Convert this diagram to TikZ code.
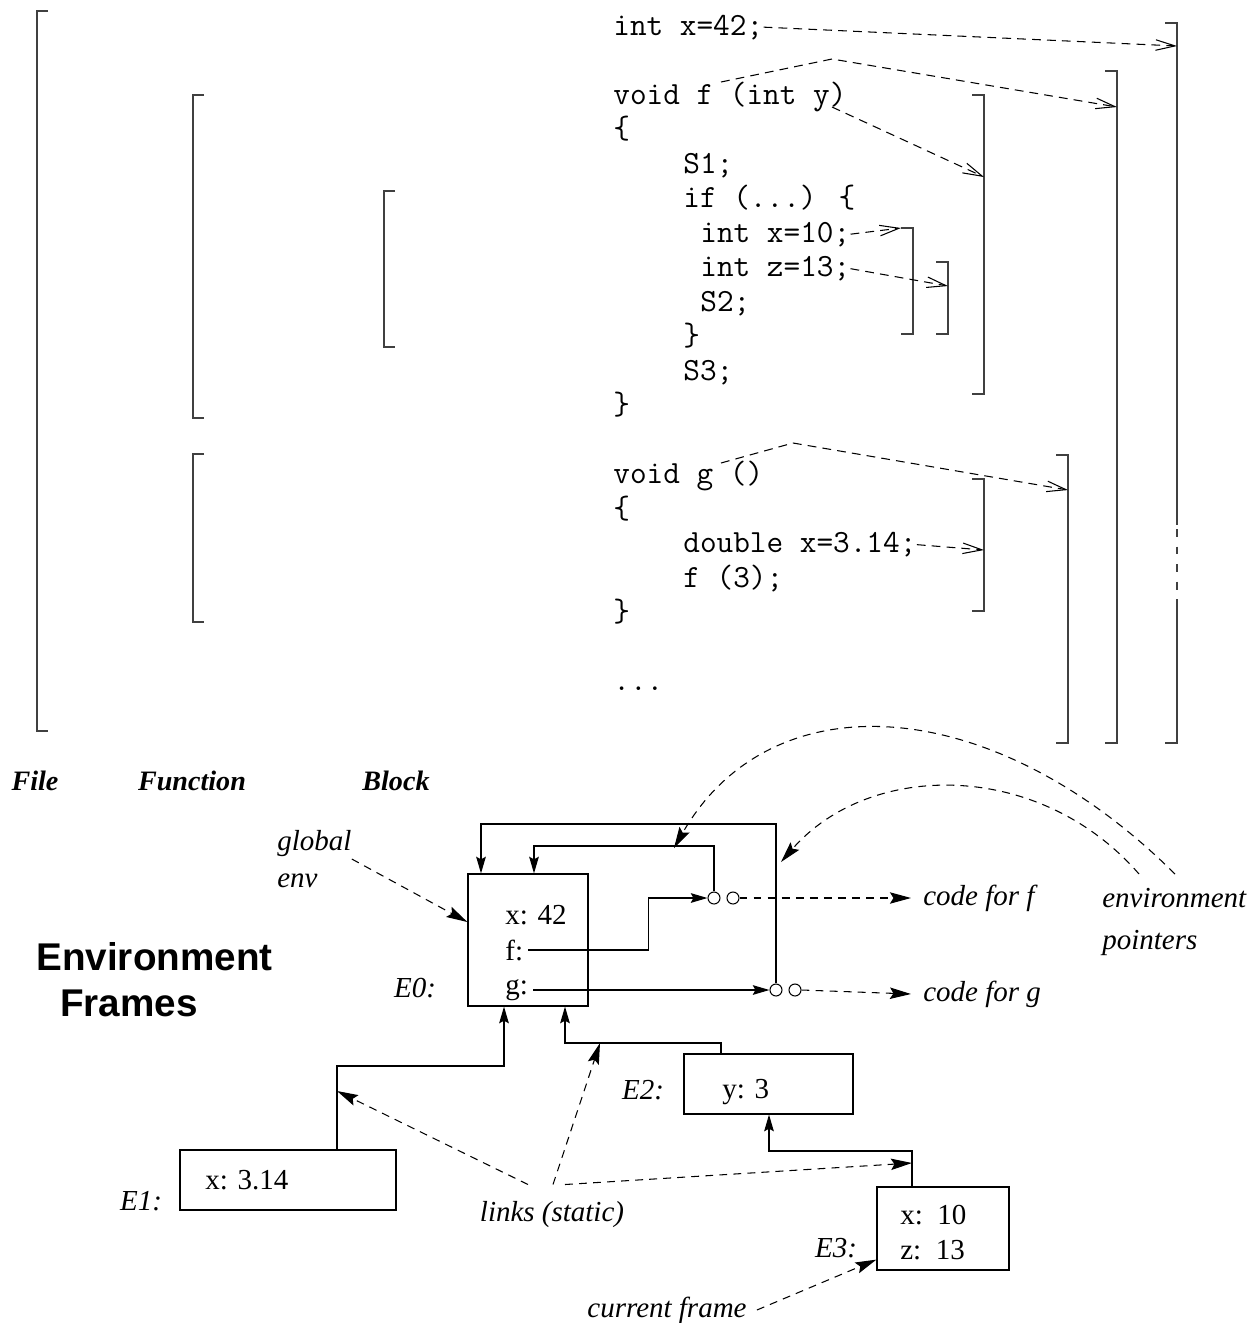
\documentclass[tikz,border=0pt]{standalone}
\usepackage{fontspec}
\setmainfont{Liberation Serif}
\setsansfont{Liberation Sans}
\usepackage{tikz}
\usetikzlibrary{arrows.meta, positioning, calc}

\begin{document}
\begin{tikzpicture}[
  x=0.02cm, y=-0.02cm,
  codeline/.style={font=\ttfamily\fontsize{18.4}{21}\selectfont, inner sep=0pt, anchor=base west},
  brk/.style={line width=0.8pt, draw=black!75},
  ptr/.style={line width=0.6pt, dash pattern=on 5pt off 3.5pt, -{Straight Barb[length=11pt, width=6pt]}},
  scopehead/.style={font=\bfseries\itshape\fontsize{16}{19}\selectfont, inner sep=0pt},
  lbl/.style={font=\itshape\fontsize{16.5}{20}\selectfont, inner sep=0pt},
  val/.style={font=\fontsize{16.5}{20}\selectfont, inner sep=0pt, anchor=west},
  envbox/.style={draw, line width=0.7pt, inner sep=0pt},
  link/.style={line width=0.7pt, -{Stealth[length=9.5pt, width=5.5pt, inset=1.5pt]}},
  dptr/.style={line width=0.6pt, dash pattern=on 4.5pt off 3.5pt, -{Stealth[length=12pt, width=6.5pt, inset=2pt]}},
  ring/.style={circle, draw, line width=0.6pt, minimum size=0.24cm, inner sep=0pt},
]
\useasboundingbox (0,0) rectangle (1255,1323);

% scope brackets, left side
\foreach \x/\a/\b in {37/11/731, 193/95/418, 193/454/622, 384/191/347}
  \draw[brk] (\x+11,\a) -- (\x,\a) -- (\x,\b) -- (\x+11,\b);

% scope brackets, right side
\foreach \x/\a/\b in {913/228/334, 948/262/334, 984/95/394, 984/479/611, 1068/455/743, 1117/71/743}
  \draw[brk] (\x-12,\a) -- (\x,\a) -- (\x,\b) -- (\x-12,\b);
\draw[brk] (1165,23) -- (1177,23) -- (1177,525);
\draw[brk, dash pattern=on 4.5pt off 5.5pt] (1177,529) -- (1177,603);
\draw[brk] (1177,603) -- (1177,743) -- (1165,743);

% program text
\node[codeline] (cx42) at (613,35) {int x=42;};
\node[codeline] (cvf) at (613,104) {void f (int y)};
\node[codeline] (cob1) at (613,138.5) {\{};
\node[codeline] (cs1) at (683,173) {S1;};
\node[codeline] (cif) at (683,207.5) {if (...) \{};
\node[codeline] (cx10) at (700,242) {int x=10;};
\node[codeline] (cz13) at (700,276.5) {int z=13;};
\node[codeline] (cs2) at (700,311) {S2;};
\node[codeline] (ccb1) at (683,345.5) {\}};
\node[codeline] (cs3) at (683,380) {S3;};
\node[codeline] (ccb2) at (613,414.5) {\}};
\node[codeline] (cvg) at (613,483.5) {void g ()};
\node[codeline] (cob2) at (613,518) {\{};
\node[codeline] (cdbl) at (683,552.5) {double x=3.14;};
\node[codeline] (ccall) at (683,587) {f (3);};
\node[codeline] (ccb3) at (613,621.5) {\}};
\node[codeline] (cdots) at (613,690.5) {...};

% declarations to scopes
\coordinate (t42) at (1177,46);
\coordinate (pf) at (721,82);
\coordinate (kf) at (832,59);
\coordinate (tf) at (1117,107);
\coordinate (py) at (832,107);
\coordinate (ty) at (984,177);
\coordinate (t10) at (901,228);
\coordinate (t13) at (948,286);
\coordinate (pg) at (721,463);
\coordinate (kg) at (793,443);
\coordinate (tg) at (1068,490);
\coordinate (tdbl) at (984,550);

\draw[ptr] (cx42.east) -- (t42);
\draw[ptr] (pf) -- (kf) -- (tf);
\draw[ptr] (py) -- (ty);
\draw[ptr] (cx10.east) -- (t10);
\draw[ptr] (cz13.east) -- (t13);
\draw[ptr] (pg) -- (kg) -- (tg);
\draw[ptr] (cdbl.east) -- (tdbl);

\node[scopehead] (hfile) at (35,781) {File};
\node[scopehead] (hfunc) at (192,781) {Function};
\node[scopehead] (hblock) at (396,781) {Block};

% environment frames
\node[font=\sffamily\bfseries\fontsize{22}{26}\selectfont, align=left, inner sep=0pt, anchor=west]
  (etitle) at (36,980) {Environment\\\hspace*{0.62em}Frames};

\node[envbox, minimum width=2.4cm, minimum height=2.64cm] (e0) at (528,940) {};
\node[val] (e0x) at (505,915) {x: 42};
\node[val] (e0f) at (505,950) {f:};
\node[val] (e0g) at (505,990) {g:};
\node[lbl] (le0) at (415,988) {E0:};

\node[envbox, minimum width=4.32cm, minimum height=1.2cm] (e1) at (288,1180) {};
\node[val] (e1x) at (205,1180) {x: 3.14};
\node[lbl] (le1) at (141,1201) {E1:};

\node[envbox, minimum width=3.38cm, minimum height=1.2cm] (e2) at (768.5,1084) {};
\node[val] (e2y) at (722,1092) {y: 3};
\node[lbl] (le2) at (643,1090) {E2:};

\node[envbox, minimum width=2.64cm, minimum height=1.66cm] (e3) at (943,1228.5) {};
\node[val] (e3x) at (900,1215) {x:~~10};
\node[val] (e3z) at (900,1250) {z:~~13};
\node[lbl] (le3) at (836,1248) {E3:};

% closures
\node[ring] (cf1) at (714,898) {};
\node[ring] (cf2) at (733,898) {};
\node[ring] (cg1) at (776,990) {};
\node[ring] (cg2) at (795,990) {};
\node[lbl, anchor=west, inner xsep=0.24cm] (codef) at (911,898) {code for f};
\node[lbl, anchor=west, inner xsep=0.24cm] (codeg) at (911,994) {code for g};

\draw[link] ([xshift=0.1cm]e0f.east) -- ++(120,0) |- (cf1.west);
\draw[link] ([xshift=0.1cm]e0g.east) -- (cg1.west);
\draw[dptr] (cf2.east) -- (codef.west);
\draw[dptr] (cg2.east) -- (codeg.west);

\coordinate (lpo) at (776,824);
\coordinate (lpo2) at (481,824);
\coordinate (lpi) at (714,846);
\coordinate (lpi2) at (534,846);
\draw[link] (cg1.north) -- (lpo) -- (lpo2) -- (lpo2 |- e0.north);
\draw[link] (cf1.north) -- (lpi) -- (lpi2) -- (lpi2 |- e0.north);

% static links
\coordinate (l1a) at (337,1066);
\coordinate (l1b) at (504,1066);
\coordinate (l2a) at (721,1043);
\coordinate (l2b) at (565,1043);
\coordinate (l3a) at (912,1151);
\coordinate (l3b) at (769,1151);
\draw[link] (l1a |- e1.north) -- (l1a) -- (l1b) -- (l1b |- e0.south);
\draw[link] (l2a |- e2.north) -- (l2a) -- (l2b) -- (l2b |- e0.south);
\draw[link] (l3a |- e3.north) -- (l3a) -- (l3b) -- (l3b |- e2.south);

% annotations
\node[lbl, align=left, anchor=north west, font=\itshape\fontsize{16.5}{21}\selectfont] (genv) at (277,830) {global\\env};
\draw[dptr] (genv.east) -- ([yshift=0.36cm]e0.west);

\node[lbl, align=left, anchor=north west, font=\itshape\fontsize{16.5}{24}\selectfont] (envp) at (1102,888) {environment\\pointers};
\coordinate (ep1) at (1175,874);
\coordinate (ep2) at (1139,874);
\coordinate (ti) at (674,848);
\coordinate (to) at (781,862);
\draw[dptr] (ep1) .. controls (990,690) and (770,680) .. (ti);
\draw[dptr] (ep2) .. controls (1040,760) and (870,760) .. (to);

\node[lbl] (links) at (552,1215) {links (static)};
\coordinate (t1) at (337,1091);
\coordinate (t2) at (600,1043);
\coordinate (t3) at (912,1163);
\draw[dptr] ([xshift=-0.48cm, yshift=0.34cm]links.north) -- (t1);
\draw[dptr] ([xshift=0.02cm, yshift=0.34cm]links.north) -- (t2);
\draw[dptr] ([xshift=0.26cm, yshift=0.34cm]links.north) -- (t3);

\node[lbl] (cur) at (667,1310) {current frame};
\draw[dptr] ([xshift=0.2cm]cur.east) -- ([yshift=0.22cm]e3.south west);
\end{tikzpicture}
\end{document}
